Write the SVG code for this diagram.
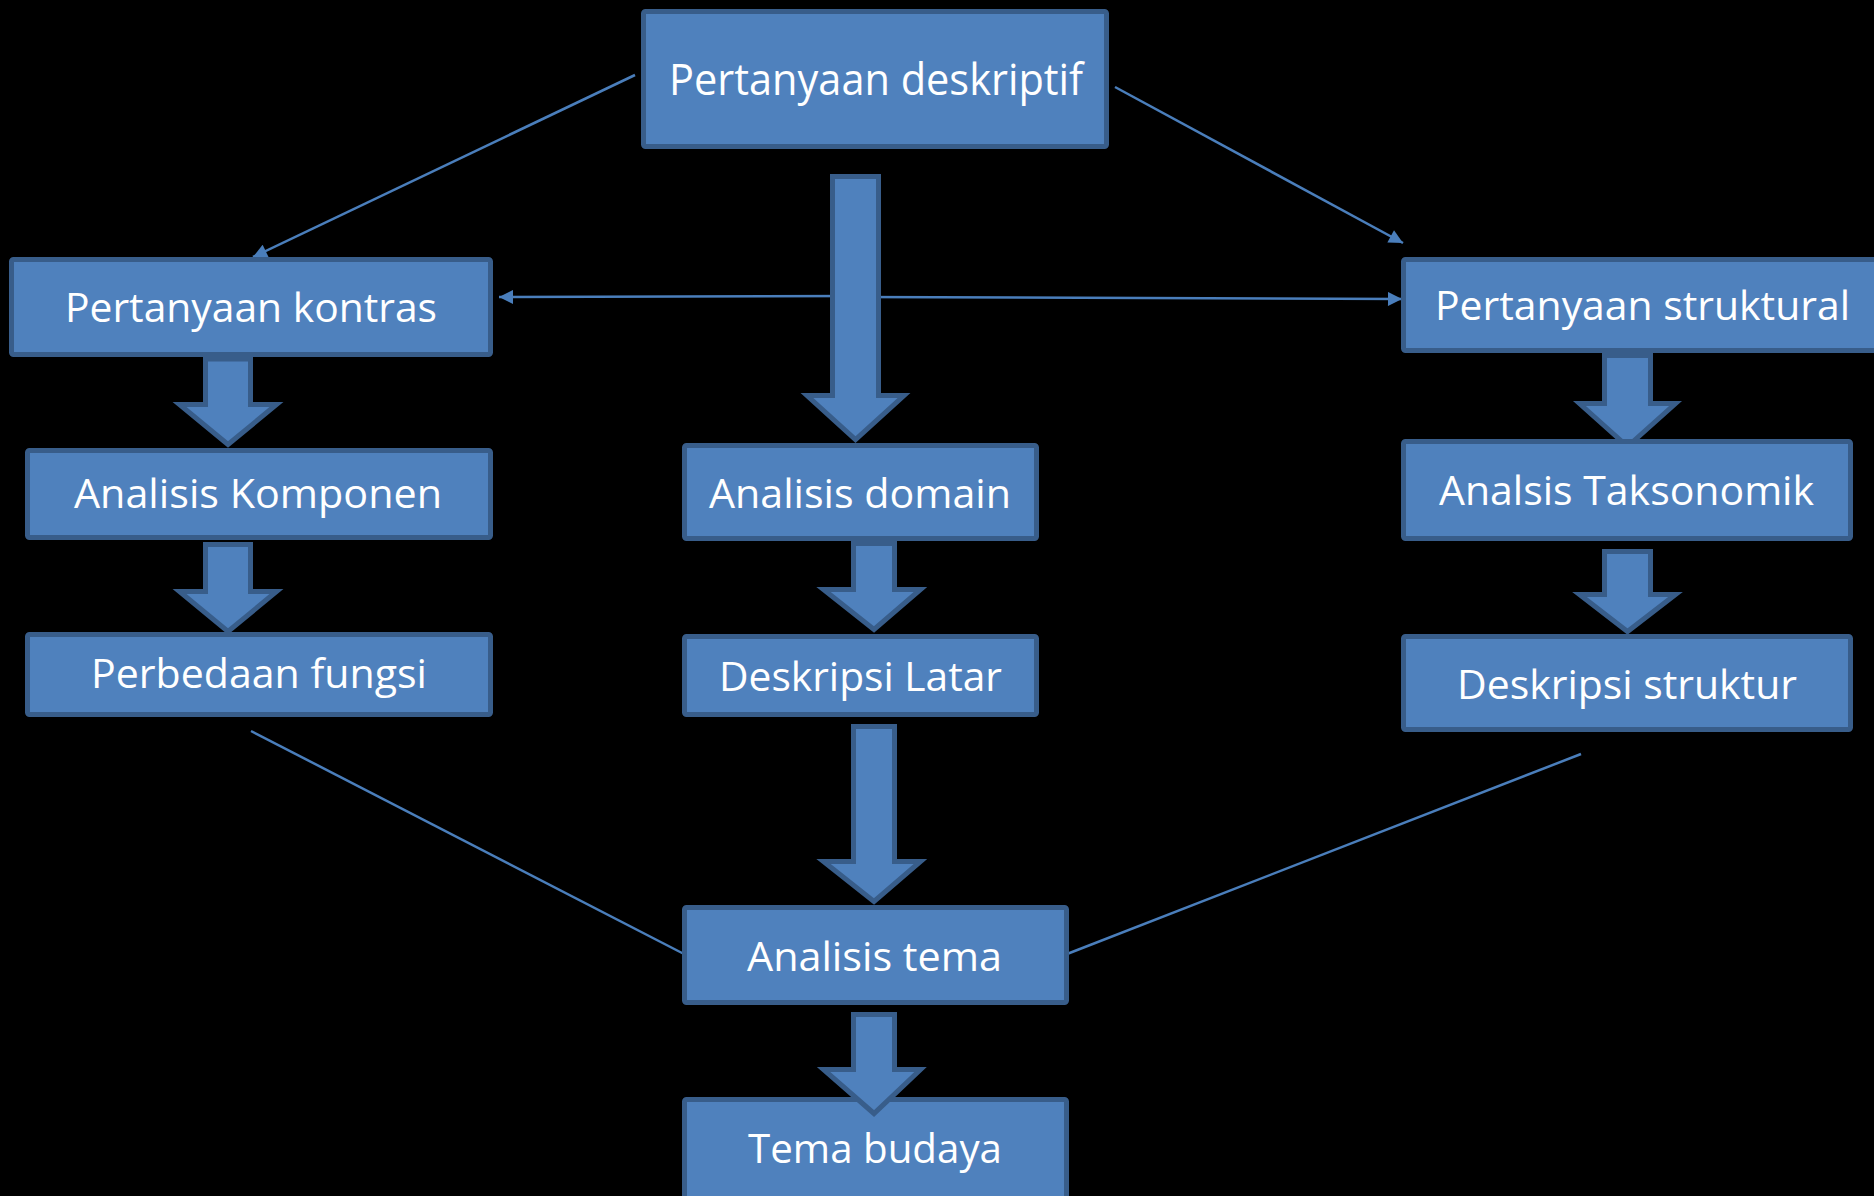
<svg xmlns="http://www.w3.org/2000/svg" width="1874" height="1196" viewBox="0 0 1874 1196">
<style>
.bg{fill:#000}
.box{fill:#4f81bd;stroke:#385d8a;stroke-width:5}
.blk{fill:#4f81bd;stroke:#385d8a;stroke-width:5;stroke-linejoin:miter}
.lbl{font-family:"Open Sans","Noto Sans","Liberation Sans",sans-serif;font-size:41px;fill:#fff;text-anchor:middle}
.ln{fill:none;stroke:#4a7ebb;stroke-width:2.5}
</style>
<defs>
<marker id="ah" viewBox="0 0 10 10" refX="10" refY="5" markerUnits="userSpaceOnUse" markerWidth="17" markerHeight="14" orient="auto">
<path d="M0,0 L10,5 L0,10 z" fill="#4a7ebb"/>
</marker>
</defs>
<rect class="bg" x="0" y="0" width="1874" height="1196"/>

<g id="connectors">
<line class="ln" x1="635" y1="75" x2="253" y2="257" marker-end="url(#ah)"/>
<line class="ln" x1="1115" y1="87" x2="1403" y2="243" marker-end="url(#ah)"/>
<line class="ln" x1="855" y1="296" x2="499" y2="297" marker-end="url(#ah)"/>
<line class="ln" x1="855" y1="297" x2="1402" y2="299" marker-end="url(#ah)"/>
<line class="ln" x1="251" y1="731" x2="684" y2="954"/>
<line class="ln" x1="1581" y1="754" x2="1067" y2="954"/>
</g>

<g id="block-arrows">
<polygon class="blk" points="832.5,176.5 878.5,176.5 878.5,395.5 904,395.5 855.5,439.5 807,395.5 832.5,395.5"/>
<polygon class="blk" points="205.5,359 250.5,359 250.5,404.5 276.5,404.5 228,444.5 179.5,404.5 205.5,404.5"/>
<polygon class="blk" points="205.5,544.5 250.5,544.5 250.5,591.5 276.5,591.5 228,631.5 179.5,591.5 205.5,591.5"/>
<polygon class="blk" points="1604.5,355.5 1650.5,355.5 1650.5,403.5 1675.5,403.5 1627.5,446.5 1579.5,403.5 1604.5,403.5"/>
<polygon class="blk" points="1604.5,551.5 1650.5,551.5 1650.5,594.5 1675.5,594.5 1627.5,631.5 1579.5,594.5 1604.5,594.5"/>
<polygon class="blk" points="853.5,543.5 894.5,543.5 894.5,589.5 920.5,589.5 874,629.5 823.5,589.5 853.5,589.5"/>
<polygon class="blk" points="853.5,726.5 894.5,726.5 894.5,861.5 920.5,861.5 874,901.5 823.5,861.5 853.5,861.5"/>
</g>

<g id="n-deskriptif">
<rect class="box" x="643.5" y="11.5" width="463" height="135" rx="2"/>
<text class="lbl" x="876" y="95" style="font-size:44px" textLength="414" lengthAdjust="spacingAndGlyphs">Pertanyaan deskriptif</text>
</g>
<g id="n-kontras">
<rect class="box" x="11.5" y="259.5" width="479" height="95" rx="2"/>
<text class="lbl" x="251" y="322" textLength="372" lengthAdjust="spacingAndGlyphs">Pertanyaan kontras</text>
</g>
<g id="n-komponen">
<rect class="box" x="27.5" y="450.5" width="463" height="87" rx="2"/>
<text class="lbl" x="258" y="508" textLength="368" lengthAdjust="spacingAndGlyphs">Analisis Komponen</text>
</g>
<g id="n-perbedaan">
<rect class="box" x="27.5" y="634.5" width="463" height="80" rx="2"/>
<text class="lbl" x="259" y="688" textLength="336" lengthAdjust="spacingAndGlyphs">Perbedaan fungsi</text>
</g>
<g id="n-struktural">
<rect class="box" x="1403.5" y="259.5" width="500" height="91" rx="2"/>
<text class="lbl" x="1642.5" y="320" textLength="415" lengthAdjust="spacingAndGlyphs">Pertanyaan struktural</text>
</g>
<g id="n-taksonomik">
<rect class="box" x="1403.5" y="441.5" width="447" height="97" rx="2"/>
<text class="lbl" x="1626.5" y="505" textLength="375" lengthAdjust="spacingAndGlyphs">Analsis Taksonomik</text>
</g>
<g id="n-deskripsi-struktur">
<rect class="box" x="1403.5" y="636.5" width="447" height="93" rx="2"/>
<text class="lbl" x="1627" y="699" textLength="340" lengthAdjust="spacingAndGlyphs">Deskripsi struktur</text>
</g>
<g id="n-domain">
<rect class="box" x="684.5" y="445.5" width="352" height="93" rx="2"/>
<text class="lbl" x="860" y="508" textLength="302" lengthAdjust="spacingAndGlyphs">Analisis domain</text>
</g>
<g id="n-latar">
<rect class="box" x="684.5" y="636.5" width="352" height="78" rx="2"/>
<text class="lbl" x="860.5" y="691" textLength="283" lengthAdjust="spacingAndGlyphs">Deskripsi Latar</text>
</g>
<g id="n-tema">
<rect class="box" x="684.5" y="907.5" width="382" height="95" rx="2"/>
<text class="lbl" x="874.5" y="971" textLength="255" lengthAdjust="spacingAndGlyphs">Analisis tema</text>
</g>
<g id="n-budaya">
<rect class="box" x="684.5" y="1099.5" width="382" height="110" rx="2"/>
<text class="lbl" x="875" y="1163" textLength="254" lengthAdjust="spacingAndGlyphs">Tema budaya</text>
</g>
<g id="arrow-tema-budaya">
<polygon class="blk" points="853.5,1014.5 894.5,1014.5 894.5,1069.5 920.5,1069.5 874,1113.5 823.5,1069.5 853.5,1069.5"/>
</g>
</svg>
